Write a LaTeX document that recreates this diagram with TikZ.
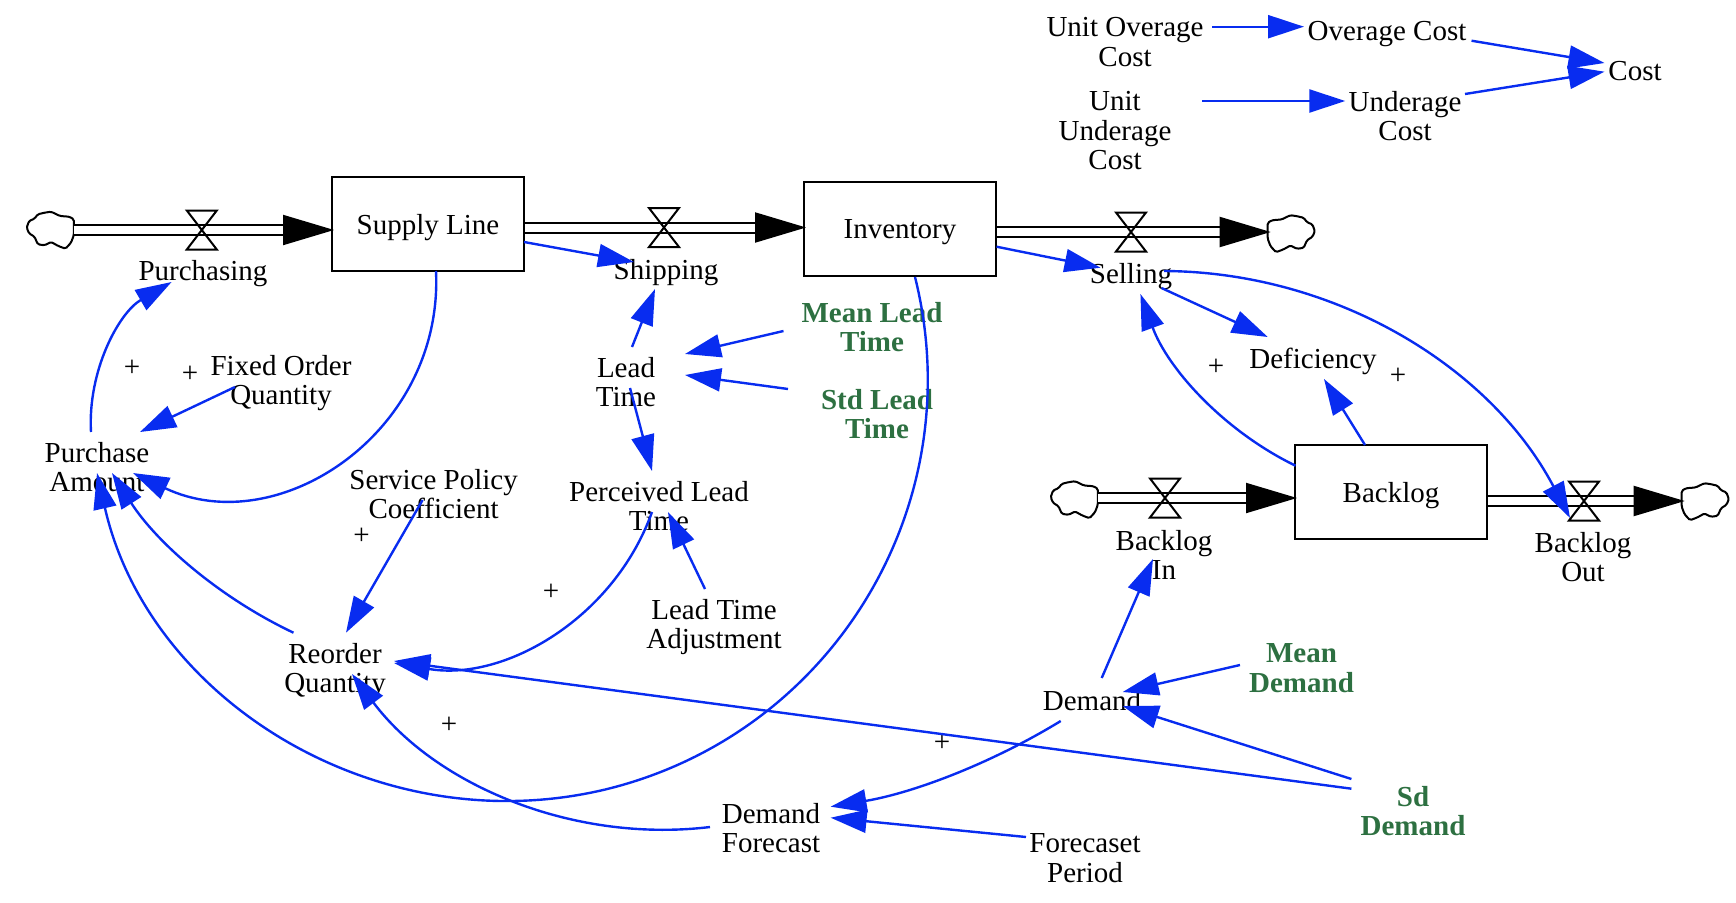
\documentclass[tikz,border=0pt]{standalone}
\usepackage{fontspec}
\usepackage{xcolor}
\setmainfont{Liberation Serif}
\usetikzlibrary{arrows.meta}
\definecolor{linkblue}{RGB}{8,44,240}
\definecolor{paramgreen}{RGB}{45,112,65}
\tikzset{
    var/.style={inner sep=0pt, align=center, font=\fontsize{29}{29.3}\selectfont},
    param/.style={var, text=paramgreen, font=\fontsize{29}{29.3}\selectfont\bfseries},
    stock/.style={var, draw, line width=2pt, text depth=0pt, minimum width=192pt, minimum height=94pt},
    polar/.style={inner sep=0pt, font=\fontsize{29}{29}\selectfont},
    link/.style={color=linkblue, line width=2.4pt, -{Triangle[length=36pt,width=23pt]}},
    flow/.style={draw=black, line width=2pt, double=white, double distance=8pt, shorten >=-3pt,
        -{Triangle[length=51pt,width=30pt,fill=black]}},
    valve/.pic={
        \draw[line width=2pt] (-15,-19.5) -- (15,-19.5) -- (-15,19.5) -- (15,19.5) -- cycle;
        \coordinate (-c) at (0,0);
    },
    cloudy/.pic={
        \draw[line width=2pt, rounded corners=1.5pt] (23.8,-10.7) -- (19.4,-13.3) -- (10,-14) -- (1.1,-18.3)
            -- (-5.5,-17.3) -- (-12.2,-15.7) -- (-15.5,-11.3) -- (-21,-9) -- (-23.3,-2.3) -- (-21,3.3)
            -- (-15.5,6.7) -- (-12.2,14.3) -- (-5.5,15.3) -- (1.1,12) -- (8.3,16) -- (15.5,18.7)
            -- (21,12.7) -- (23.8,5.3) -- cycle;
        \coordinate (-end) at (23.8,0);
    }
}
\begin{document}
\begin{tikzpicture}[x=1pt, y=-1pt]
    \useasboundingbox (0,0) rectangle (1736,902);

    % stocks
    \node[stock] (sl) at (428,224) {Supply Line};
    \node[stock] (inv) at (900,229) {Inventory};
    \node[stock] (back) at (1391,492) {Backlog};

    % flows
    \pic (c1) at (50,230) {cloudy};
    \pic (c2) [xscale=-1] at (1291.5,233.5) {cloudy};
    \pic (c3) at (1074,499.5) {cloudy};
    \pic (c4) [xscale=-1] at (1705.5,501.5) {cloudy};
    \coordinate (f1) at (201.8,230);
    \coordinate (f2) at (664,227.5);
    \coordinate (f3) at (1131,232);
    \coordinate (f4) at (1165,498);
    \coordinate (f5) at (1584,501);
    \draw[flow] (f1 -| c1-end) -- (f1 -| sl.west);
    \draw[flow] (f2 -| sl.east) -- (f2 -| inv.west);
    \draw[flow] (f3 -| inv.east) -- (f3 -| c2-end);
    \draw[flow] (f4 -| c3-end) -- (f4 -| back.west);
    \draw[flow] (f5 -| back.east) -- (f5 -| c4-end);
    \pic (v1) at (f1) {valve};
    \pic (v2) at (f2) {valve};
    \pic (v3) at (f3) {valve};
    \pic (v4) at (f4) {valve};
    \pic (v5) at (f5) {valve};

    % variables
    \node[var] (uoc) at (1125,42) {Unit Overage\\Cost};
    \node[var] (oc) at (1387,34.5) {Overage Cost};
    \node[var] (cost) at (1635,70.7) {Cost};
    \node[var] (uuc) at (1115,130.7) {Unit\\Underage\\Cost};
    \node[var] (ucost) at (1405,116) {Underage\\Cost};
    \node[var] (buy) at (203,274) {Purchasing};
    \node[var] (ship) at (666,272.5) {Shipping};
    \node[var] (sell) at (1131,277) {Selling};
    \node[var] (lt) at (626,382) {Lead\\Time};
    \node[var] (foq) at (281,383) {Fixed Order\\Quantity};
    \node[var] (pa) at (97,467) {Purchase\\Amount};
    \node[var] (spc) at (433.6,494) {Service Policy\\Coefficient};
    \node[var] (plt) at (659,506) {Perceived Lead\\Time};
    \node[var] (lta) at (714,627) {Lead Time\\Adjustment};
    \node[var] (rq) at (335,671) {Reorder\\Quantity};
    \node[var] (df) at (771,828) {Demand\\Forecast};
    \node[var] (fp) at (1085,858) {Forecaset\\Period};
    \node[var] (dem) at (1092,701) {Demand};
    \node[var] (bin) at (1164,555) {Backlog\\In};
    \node[var] (bout) at (1583,557) {Backlog\\Out};
    \node[var] (def) at (1313,361.5) {Deficiency};
    \node[param] (mlt) at (872,327) {Mean Lead\\Time};
    \node[param] (slt) at (877,414) {Std Lead\\Time};
    \node[param] (md) at (1301.5,668) {Mean\\Demand};
    \node[param] (sd) at (1413,811) {Sd\\Demand};

    % polarity signs
    \node[polar] (p1) at (132,368) {+};
    \node[polar] (p2) at (190,374) {+};
    \node[polar] (p3) at (1216,367) {+};
    \node[polar] (p4) at (1398,376) {+};
    \node[polar] (p5) at (361.6,536) {+};
    \node[polar] (p6) at (551,592) {+};
    \node[polar] (p7) at (449,725) {+};
    \node[polar] (p8) at (942,743) {+};

    \coordinate (invlow) at (604.8,789.6);

    \path[link]
        ([shift={(-6,-35)}]pa.center) edge[bend left=31.5, looseness=.92] ([shift={(-31.4,8)}]buy.center)
        ([shift={(-46,4)}]foq.center) edge ([shift={(43,-35)}]pa.center)
        ([shift={(8,47)}]sl.center) edge[bend left=59, looseness=1.13] ([shift={(36,6)}]pa.center)
        ([shift={(96,18)}]sl.center) edge ([shift={(-32,-10.5)}]ship.center)
        ([shift={(6,-35)}]lt.center) edge ([shift={(-11,16.5)}]ship.center)

        ([shift={(-88.5,4)}]mlt.center) edge ([shift={(59,-28)}]lt.center)
        ([shift={(-89,-25)}]slt.center) edge ([shift={(59,-7)}]lt.center)
        ([shift={(4,6)}]lt.center) edge ([shift={(-7,-35)}]plt.center)
        ([shift={(-11,6)}]spc.center) edge ([shift={(11,-38.3)}]rq.center)
        ([shift={(-7,6)}]plt.center) edge[bend left=40, looseness=.96] ([shift={(59,-8)}]rq.center)
        ([shift={(-9,-38)}]lta.center) edge ([shift={(9,6)}]plt.center)

        ([shift={(-41.5,-38.3)}]rq.center) edge[bend left=16, looseness=.87] ([shift={(15,6)}]pa.center)
        ([shift={(15,48)}]inv.center) edge[bend left=45.25, -] (invlow)
        (invlow) edge[bend left=45.25] ([shift={(0,6)}]pa.center)
        ([shift={(-61,-1)}]df.center) edge[bend left=30, looseness=.91] ([shift={(17,3)}]rq.center)
        ([shift={(-61.6,-22.3)}]sd.center) edge ([shift={(59,-10)}]rq.center)

        ([shift={(-31.3,20)}]dem.center) edge[bend left=11, looseness=.86] ([shift={(59.6,-21.3)}]df.center)
        ([shift={(-59,-21)}]fp.center) edge ([shift={(59.6,-10.3)}]df.center)
        ([shift={(9.7,-23)}]dem.center) edge ([shift={(-11,4)}]bin.center)
        ([shift={(-61.5,-3)}]md.center) edge ([shift={(30.7,-9)}]dem.center)
        ([shift={(-61.6,-32)}]sd.center) edge ([shift={(30.7,5)}]dem.center)

        ([shift={(-95.5,-26.3)}]back.center) edge[bend left=22, looseness=.88] ([shift={(9.4,17)}]sell.center)
        ([shift={(30.5,11)}]sell.center) edge ([shift={(-45.2,-24.5)}]def.center)
        ([shift={(-26,-47)}]back.center) edge ([shift={(11,17.5)}]def.center)
        ([shift={(33,-6)}]sell.center) edge[bend left=31, looseness=.92] ([shift={(-13,-39)}]bout.center)
        ([shift={(96.5,17.7)}]inv.center) edge ([shift={(-30.4,-9.3)}]sell.center)

        ([shift={(87.4,-15.3)}]uoc.center) edge ([shift={(-83,-7.8)}]oc.center)
        ([shift={(87.4,-29.7)}]uuc.center) edge ([shift={(-59.7,-15)}]ucost.center)
        ([shift={(84.5,6.2)}]oc.center) edge ([shift={(-30.5,-7.7)}]cost.center)
        ([shift={(60,-22)}]ucost.center) edge ([shift={(-30.5,1)}]cost.center);

\end{tikzpicture}
\end{document}
